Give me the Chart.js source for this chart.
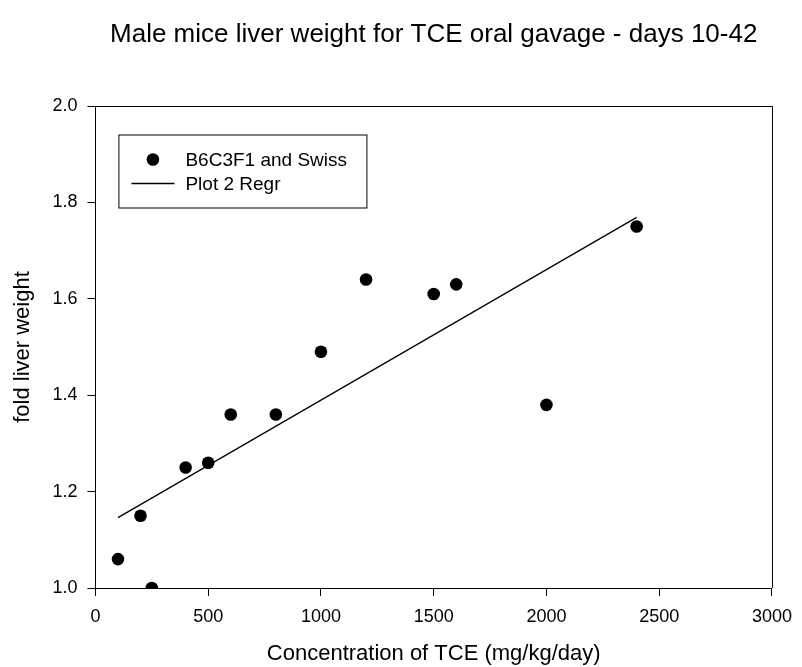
<!DOCTYPE html>
<html>
<head>
<meta charset="utf-8">
<script src="https://cdn.jsdelivr.net/npm/chart.js@4.4.1/dist/chart.umd.min.js"></script>
<style>
  html, body { margin: 0; padding: 0; background: #fff; }
  #wrap { width: 802px; height: 667px; }
</style>
</head>
<body>
<div id="wrap"><canvas id="liverChart" width="802" height="667"></canvas></div>
<script>
// Data
const doseTCE = [100, 200, 250, 400, 500, 600, 800, 1000, 1200, 1500, 1600, 2000, 2400];
const foldLiverWeight = [1.06, 1.15, 1.00, 1.25, 1.26, 1.36, 1.36, 1.49, 1.64, 1.61, 1.63, 1.38, 1.75];
// Regression line end points (Plot 2 Regr)
const regrX = [100, 2400];
const regrY = [1.146, 1.769];

const chartTitle = 'Male mice liver weight for TCE oral gavage - days 10-42';
const xTitle = 'Concentration of TCE (mg/kg/day)';
const yTitle = 'fold liver weight';
const seriesNames = ['B6C3F1 and Swiss', 'Plot 2 Regr'];

const fontFamily = '"Liberation Sans", Arial, Helvetica, sans-serif';

// Title, frame and legend box drawn on top of the chart
const overlayPlugin = {
    id: 'overlay',
    afterDraw(chart) {
        const ctx = chart.ctx;
        const area = chart.chartArea;
        ctx.save();

        // title, centred over the plot area
        ctx.fillStyle = '#000';
        ctx.font = '26px ' + fontFamily;
        ctx.textAlign = 'center';
        ctx.textBaseline = 'alphabetic';
        ctx.fillText(chartTitle, (area.left + area.right) / 2, 42);

        // top and right frame lines
        ctx.strokeStyle = '#000';
        ctx.lineWidth = 1;
        ctx.beginPath();
        ctx.moveTo(area.left, area.top + 0.5);
        ctx.lineTo(area.right + 0.5, area.top + 0.5);
        ctx.lineTo(area.right + 0.5, area.bottom);
        ctx.stroke();

        // legend
        const lx = area.left + 23;
        const ly = area.top + 28.5;
        ctx.strokeRect(lx + 0.5, ly + 0.5, 248, 73);

        ctx.beginPath();
        ctx.arc(lx + 34.5, ly + 25, 6.3, 0, Math.PI * 2);
        ctx.fill();

        ctx.lineWidth = 1.3;
        ctx.beginPath();
        ctx.moveTo(lx + 13, ly + 49);
        ctx.lineTo(lx + 56, ly + 49);
        ctx.stroke();

        ctx.font = '19px ' + fontFamily;
        ctx.textAlign = 'left';
        ctx.fillText(seriesNames[0], lx + 67, ly + 31.8);
        ctx.fillText(seriesNames[1], lx + 67, ly + 55.8);
        ctx.restore();
    }
};

const ctx = document.getElementById('liverChart').getContext('2d');
const liverChart = new Chart(ctx, {
    type: 'scatter',
    data: {
        datasets: [{
            label: seriesNames[0],
            data: doseTCE.map((x, i) => ({ x: x, y: foldLiverWeight[i] })),
            backgroundColor: '#000',
            borderColor: '#000',
            borderWidth: 0,
            pointRadius: 6.3,
            pointHoverRadius: 6.3
        }, {
            label: seriesNames[1],
            data: regrX.map((x, i) => ({ x: x, y: regrY[i] })),
            showLine: true,
            borderColor: '#000',
            borderWidth: 1.3,
            pointRadius: 0,
            fill: false
        }]
    },
    options: {
        responsive: false,
        animation: false,
        layout: {
            padding: { left: 4, right: 22, top: 106, bottom: 0 }
        },
        plugins: {
            legend: { display: false },
            title: { display: false },
            tooltip: { enabled: false }
        },
        scales: {
            x: {
                type: 'linear',
                min: 0,
                max: 3000,
                border: { display: true, color: '#000', width: 1 },
                grid: { drawOnChartArea: false, drawTicks: true, tickLength: 8, color: '#000' },
                ticks: {
                    stepSize: 500,
                    color: '#000',
                    padding: 10,
                    maxRotation: 0,
                    font: { family: fontFamily, size: 18 },
                    callback: v => String(v)
                },
                title: {
                    display: true,
                    text: xTitle,
                    color: '#000',
                    font: { family: fontFamily, size: 22 },
                    padding: { top: 3, bottom: 0 }
                }
            },
            y: {
                type: 'linear',
                min: 1.0,
                max: 2.0,
                border: { display: true, color: '#000', width: 1 },
                grid: { drawOnChartArea: false, drawTicks: true, tickLength: 8, color: '#000' },
                ticks: {
                    stepSize: 0.2,
                    color: '#000',
                    padding: 10,
                    font: { family: fontFamily, size: 18 },
                    callback: v => v.toFixed(1)
                },
                title: {
                    display: true,
                    text: yTitle,
                    color: '#000',
                    font: { family: fontFamily, size: 22 },
                    padding: { top: 6, bottom: 6 }
                }
            }
        }
    },
    plugins: [overlayPlugin]
});
</script>
</body>
</html>
